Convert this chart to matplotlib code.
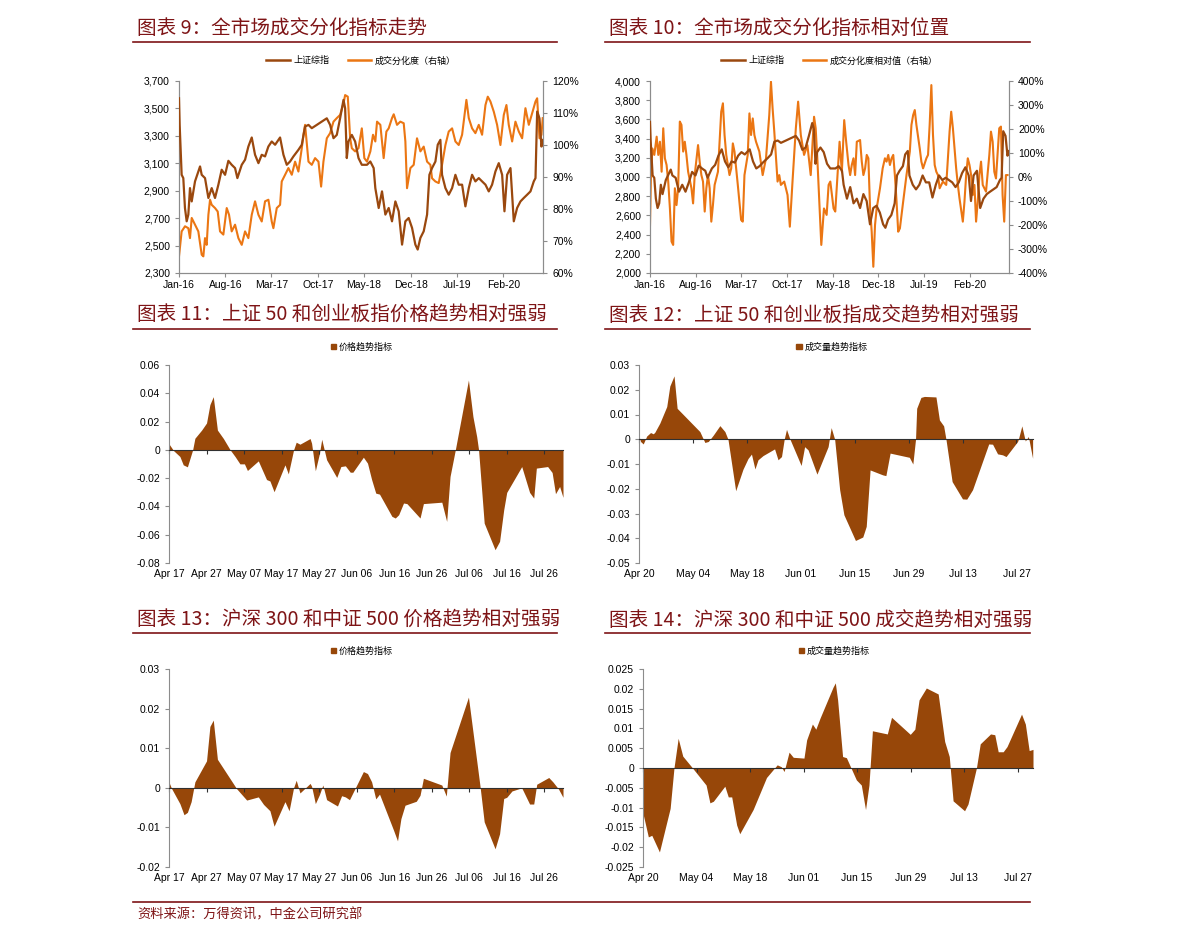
import numpy as np
import pandas as pd
import matplotlib
matplotlib.use('Agg')
import matplotlib.pyplot as plt
from matplotlib.lines import Line2D
from matplotlib.patches import Patch
from matplotlib.ticker import FuncFormatter

plt.rcParams['font.family'] = ['Liberation Sans', 'Noto Sans CJK SC', 'DejaVu Sans']
CJK = ['Noto Sans CJK SC', 'DejaVu Sans']

# ---------------- data: top panels (months since Jan 2016) ----------------
sse_m = [0, 0.1, 0.4, 0.65, 0.9, 1.16, 1.41, 1.66, 1.92, 2.42, 3.18, 3.43, 3.93, 4.44, 4.94,
         5.44, 5.95, 6.45, 6.96, 7.46, 7.96, 8.47, 8.82, 9.48, 9.98, 10.48, 10.99, 11.49, 12.0,
         12.5, 13.0, 13.5, 14.01, 14.52, 15.27, 15.78, 16.28, 16.78, 17.29, 18.04, 18.55, 19.05,
         19.56, 20.06, 20.82, 21.57, 22.33, 22.83, 23.34, 23.84, 24.34, 24.85, 25.1, 25.35, 25.6,
         26.11, 26.61, 27.12, 27.62, 28.4, 28.9, 29.41, 29.66, 30.17, 30.67, 31.18, 31.68, 32.18,
         32.69, 33.19, 33.7, 34.2, 34.7, 35.21, 35.71, 36.06, 36.47, 36.97, 37.48, 37.83, 38.23,
         38.74, 39.09, 39.49, 39.74, 40.25, 40.75, 41.26, 41.76, 42.26, 42.77, 43.27, 43.78, 44.28,
         44.78, 45.29, 45.79, 46.3, 46.8, 47.3, 47.81, 48.31, 48.82, 49.17, 49.57, 50.08, 50.58,
         51.08, 51.59, 52.09, 52.6, 53.1, 53.6, 53.86, 54.11, 54.46, 54.76, 54.95]
sse_v = [3574, 3380, 3016, 2992, 2774, 2677, 2726, 2919, 2822, 2968, 3077, 3016, 2992, 2847, 2919,
         2847, 2944, 3053, 3016, 3118, 3089, 3065, 2992, 3089, 3126, 3222, 3288, 3162, 3101,
         3162, 3150, 3222, 3259, 3235, 3288, 3162, 3089, 3113, 3150, 3198, 3235, 3368,
         3380, 3356, 3380, 3404, 3428, 3380, 3283, 3307, 3428, 3562, 3501, 3138, 3259,
         3307, 3259, 3138, 3089, 3089, 3113, 3065, 2919, 2774, 2895, 2726, 2774, 2677,
         2822, 2750, 2507, 2677, 2701, 2629, 2507, 2471, 2556, 2604, 2726, 3016, 3065,
         3113, 3235, 3271, 3016, 2919, 2871, 2919, 3016, 2944, 2944, 2786, 2919, 3016,
         2968, 2992, 2968, 2944, 2895, 2944, 3041, 3101, 3016, 2750, 3016, 3065, 2677,
         2774, 2822, 2847, 2871, 2895, 2968, 2992, 3477, 3428, 3222, 3270]

div_m = [0, 0.4, 0.91, 1.41, 1.66, 1.92, 2.42, 2.92, 3.43, 3.68, 3.93, 4.18, 4.44, 4.69, 4.94,
         5.44, 5.85, 6.2, 6.7, 7.21, 7.56, 7.96, 8.47, 8.97, 9.48, 9.98, 10.48, 10.99, 11.49,
         12.0, 12.5, 13.0, 13.51, 14.01, 14.26, 14.77, 15.27, 15.52, 16.03, 16.53, 17.04, 17.54,
         18.04, 18.55, 18.8, 19.05, 19.56, 20.06, 20.56, 21.07, 21.47, 21.82, 22.33, 22.83, 23.34,
         23.84, 24.34, 24.85, 25.1, 25.5, 25.86, 26.11, 26.61, 27.12, 27.62, 28.0, 28.4, 28.91,
         29.31, 29.66, 29.92, 30.42, 30.92, 31.33, 31.68, 32.18, 32.44, 32.94, 33.44, 33.95, 34.2,
         34.45, 34.96, 35.46, 35.96, 36.47, 36.97, 37.48, 37.98, 38.23, 38.74, 39.24, 39.74, 40.25,
         40.75, 41.26, 41.76, 42.26, 42.77, 43.42, 43.78, 44.28, 44.78, 45.29, 45.79, 46.3, 46.65,
         47.05, 47.56, 48.06, 48.56, 49.07, 49.47, 49.82, 50.33, 50.83, 51.34, 51.84, 52.34, 52.85,
         53.35, 53.86, 54.11, 54.46, 54.76, 54.95]
div_pct = [65.2, 73.0, 74.6, 74.0, 70.9, 77.2, 75.1, 73.0, 65.7, 65.2, 70.9, 68.8, 78.2, 82.9, 81.3,
           80.3, 79.2, 73.0, 72.0, 80.3, 78.2, 73.0, 75.1, 70.9, 68.8, 73.0, 70.9, 78.2, 82.4,
           78.2, 76.1, 82.4, 82.9, 76.1, 74.0, 80.3, 81.3, 88.6, 90.7, 92.8, 90.7, 94.8,
           91.7, 99.0, 103.2, 106.3, 94.8, 93.8, 95.9, 94.8, 87.0, 94.8, 102.1, 103.7, 107.3,
           108.4, 109.4, 113.0, 115.6, 115.1, 102.1, 99.0, 98.0, 99.0, 105.2, 95.9, 94.8, 98.0,
           103.2, 101.1, 107.3, 106.3, 95.9, 104.2, 105.2, 108.4, 109.6, 106.3, 107.3, 106.8, 101.1,
           86.5, 92.8, 93.8, 102.1, 98.0, 99.5, 94.8, 93.8, 89.6, 88.6, 88.1, 93.8, 100.0,
           104.2, 105.2, 101.1, 100.0, 103.2, 114.1, 108.4, 105.2, 103.7, 106.3, 103.2, 112.5, 115.1,
           113.6, 110.4, 106.3, 100.0, 109.4, 112.5, 106.3, 101.1, 107.3, 104.2, 102.1, 111.5, 106.3,
           109.9, 113.6, 114.6, 102.1, 103.2, 108.4]

rel_m = [0, 0.15, 0.36, 0.66, 1.02, 1.27, 1.52, 1.78, 2.03, 2.28, 2.54, 2.79, 3.05, 3.3, 3.55,
         3.81, 4.06, 4.31, 4.57, 4.82, 5.08, 5.33, 5.58, 5.84, 6.35, 6.6, 6.85, 7.36, 7.61, 7.87,
         8.12, 8.38, 8.63, 8.88, 9.14, 9.39, 9.64, 9.9, 10.41, 10.91, 11.17, 11.42, 11.68, 12.18,
         12.44, 12.69, 12.94, 13.45, 13.96, 14.21, 14.47, 14.97, 15.23, 15.48, 15.74, 15.99, 16.24,
         16.75, 17.26, 17.77, 18.27, 18.53, 18.78, 19.04, 19.54, 19.8, 20.05, 20.56, 21.07, 21.42,
         21.83, 22.34, 22.69, 23.1, 23.6, 24.11, 24.62, 25.13, 25.38, 25.63, 25.89, 26.24, 26.65,
         27.06, 27.36, 27.62, 28.12, 28.38, 28.88, 29.04, 29.39, 29.75, 30.05, 30.41, 30.66, 30.91,
         31.17, 31.42, 31.68, 32.18, 32.44, 32.69, 32.95, 33.2, 33.45, 33.71, 33.96, 34.21, 34.47,
         34.72, 35.23, 35.64, 35.99, 36.24, 36.5, 36.75, 37.01, 37.26, 37.51, 37.77, 38.02, 38.28,
         38.53, 38.78, 39.29, 39.8, 40.05, 40.31, 40.56, 40.81, 41.32, 41.57, 41.83, 42.34, 42.59,
         42.84, 43.1, 43.35, 43.61, 43.86, 44.11, 44.37, 44.87, 45.38, 45.89, 46.14, 46.4, 46.65,
         46.9, 47.16, 47.41, 47.92, 48.17, 48.43, 48.68, 48.94, 49.19, 49.44, 49.7, 49.95, 50.2,
         50.46, 50.71, 50.97, 51.47, 51.98, 52.23, 52.49, 52.74, 53.0, 53.5, 53.76, 54.01, 54.26,
         54.52, 54.77]
rel_pct = [-200, 8, 119, 92, 168, 92, 147, 22, 203, 78, 50, -19, -131, -269, -283,
           -47, -117, -47, 231, 217, 106, 147, 92, 22, -47, -110, 8, 133, 64, 8,
           -19, -144, -47, 8, -47, -186, -117, -33, 22, 272, 307, 175, 92, 8,
           36, 140, 106, -33, -179, -186, 8, 92, 265, 175, 244, 175, 147,
           106, 8, 78, 258, 397, 286, 189, -19, 8, -33, -19, -75, -207,
           -19, 203, 314, 175, 92, 133, 8, 251, 203, 78, -75, -283, -131,
           -158, -33, -19, -131, -144, 78, 147, 22, 237, 147, 50, 8, 50,
           78, 8, 147, 154, 64, 8, 36, 92, 78, -131, -228, -374, -200,
           -131, -47, 36, 78, 64, 92, 50, 78, 92, 8, -103, -228, -214,
           -158, -103, 8, 106, 217, 258, 279, 217, 119, 64, 36, 78, 92,
           217, 383, 175, 50, 22, 8, -47, -19, -33, 189, 272, 203, 119,
           36, -33, -89, -186, -103, 8, 78, 50, 8, -75, -33, -186, -103,
           8, 64, -33, -61, 92, 189, 147, 22, -6, 203, 210, -75, -186,
           8, 8]

top_ticks = ['Jan-16', 'Aug-16', 'Mar-17', 'Oct-17', 'May-18', 'Dec-18', 'Jul-19', 'Feb-20']

# ---------------- data: area panels (days since start date, 2020) ----------------
p11_day = [0, 1.2, 2.9, 3.8, 4.9, 6.3, 6.9, 8.7, 10.0, 10.9, 11.8, 12.9, 14.5, 16.3, 17.6, 18.9,
           20.1, 20.9, 23.8, 26.0, 26.9, 28.0, 30.9, 31.8, 33.2, 33.9, 34.9, 37.6, 38.0, 39.0,
           40.1, 40.7, 42.0, 44.7, 45.8, 47.0, 48.3, 49.0, 51.8, 52.9, 54.0, 55.1, 56.1, 59.4,
           60.3, 61.2, 62.5, 63.4, 66.9, 67.8, 72.7, 74.0, 74.9, 76.3, 79.8, 81.0, 82.0, 82.5,
           84.0, 86.9, 88.1, 89.2, 90.0, 94.0, 96.1, 97.2, 97.9, 100.9, 102.1, 103.0, 104.1, 105.0]
p11_val = [0.0042, -0.0005, -0.0047, -0.0106, -0.012, 0, 0.0082, 0.014, 0.019, 0.032, 0.0376,
           0.014, 0.008, 0, -0.0047, -0.0099, -0.0099, -0.0146, -0.0078, -0.021, -0.022, -0.0296,
           -0.0106, -0.017, 0, 0.0054, 0.004, 0.008, 0.0047, -0.0148, -0.0024, 0.0075, -0.007,
           -0.0195, -0.0118, -0.0113, -0.0158, -0.0158, -0.0052, -0.0094, -0.021, -0.0306, -0.0313,
           -0.047, -0.0482, -0.0459, -0.0376, -0.038, -0.0482, -0.038, -0.037, -0.0506, -0.0188, 0,
           0.0494, 0.0235, 0.0094, 0, -0.0518, -0.0706, -0.0647, -0.0424, -0.0301, -0.0118,
           -0.0301, -0.0341, -0.0129, -0.0118, -0.016, -0.031, -0.0259, -0.0336]

p12_day = [0, 0.4, 1.1, 2.0, 3.0, 3.7, 4.1, 5.4, 7.2, 8.0, 9.1, 9.9, 15.8, 17.1, 18.0, 19.3, 21.0,
           22.3, 23.1, 25.1, 27.0, 28.3, 29.2, 30.1, 30.9, 32.2, 35.2, 36.1, 37.0, 37.7, 38.3, 39.1,
           42.1, 43.0, 43.9, 46.2, 49.1, 49.9, 50.8, 52.1, 53.2, 56.2, 58.1, 59.0, 60.0, 63.3, 64.1,
           65.2, 70.2, 71.1, 71.8, 72.1, 73.2, 74.1, 77.1, 78.0, 79.1, 79.7, 81.3, 84.0, 85.1, 86.6,
           90.8, 91.8, 93.1, 94.4, 95.3, 98.3, 98.5, 99.4, 100.3, 101.1, 102.2]
p12_val = [0.0013, -0.0009, -0.0019, 0.0013, 0.0027, 0.0022, 0.0028, 0.0065, 0.0132, 0.0215,
           0.0256, 0.0125, 0.0031, -0.0013, -0.0009, 0.0017, 0.0055, 0.0031, 0, -0.0208, -0.0121,
           -0.0078, -0.006, -0.012, -0.0083, -0.0066, -0.0039, -0.0083, -0.007, 0, 0.004, 0.0004,
           -0.0106, -0.003, -0.0043, -0.0141, -0.003, 0.0047, 0, -0.0204, -0.0305, -0.0409, -0.0395,
           -0.0352, -0.0124, -0.0144, -0.0147, -0.0056, -0.0073, -0.01, 0, 0.0125, 0.0169, 0.0173,
           0.0171, 0.0078, 0.0054, 0, -0.0171, -0.0241, -0.0242, -0.0204, -0.0019, -0.002, -0.0059,
           -0.0063, -0.007, -0.0009, 0, 0.0054, -0.0007, 0.0011, -0.0077]

p13_day = [0, 0.7, 2.9, 4.0, 4.9, 5.9, 6.9, 10.0, 10.9, 11.8, 12.9, 18.0, 20.7, 23.8, 25.2, 26.9,
           28.0, 30.9, 32.0, 33.2, 33.9, 34.9, 37.6, 38.0, 39.0, 40.1, 41.0, 42.0, 44.9, 46.0, 47.0,
           48.1, 51.8, 52.9, 54.0, 55.1, 56.1, 59.8, 60.9, 61.8, 62.9, 65.9, 66.9, 67.8, 72.7, 73.9,
           74.9, 79.8, 82.9, 84.0, 86.9, 88.1, 89.2, 90.0, 91.4, 94.0, 96.1, 97.2, 98.0, 101.2,
           102.3, 103.8, 105.0]
p13_val = [0.0014, -0.0002, -0.004, -0.0068, -0.0062, -0.0035, 0.0015, 0.0068, 0.0155, 0.0171,
           0.0072, -0.0002, -0.0031, -0.0023, -0.0042, -0.0058, -0.0097, -0.0035, -0.0058, 0,
           0.0019, -0.0013, 0.0011, 0.0004, -0.004, -0.0017, 0.0007, -0.003, -0.0046, -0.002,
           -0.0023, -0.003, 0.0041, 0.0036, 0.0015, -0.0028, -0.0016, -0.0106, -0.0134, -0.0078,
           -0.0044, -0.0034, -0.0019, 0.0024, 0.0007, -0.0021, 0.0089, 0.0229, 0.0003, -0.0086,
           -0.0154, -0.0116, -0.0027, -0.0024, -0.0008, 0, -0.0041, -0.0041, 0.0009, 0.0026, 0.0015,
           -0.0003, -0.0024]

p14_day = [0.0, 1.4, 2.3, 4.3, 7.1, 8.1, 9.2, 10.4, 12.7, 16.5, 17.5, 18.4, 21.4, 22.3, 23.2, 24.5,
           25.3, 28.8, 32.3, 35.1, 36.2, 36.9, 38.2, 39.3, 42.1, 42.8, 44.3, 45.2, 46.3, 49.7, 50.3,
           50.9, 52.2, 53.2, 55.8, 57.1, 58.2, 59.1, 60.0, 63.9, 65.0, 69.9, 71.1, 72.2, 74.1, 77.2,
           78.9, 80.1, 81.1, 84.1, 85.0, 87.2, 88.2, 90.9, 92.0, 92.9, 94.2, 95.2, 99.0, 100.0,
           101.0, 102.0]
p14_val = [-0.0115, -0.0174, -0.017, -0.0212, -0.0102, 0, 0.0075, 0.003, 0.0003, -0.0043, -0.0088,
           -0.0084, -0.0046, -0.0073, -0.0073, -0.0144, -0.0166, -0.0105, -0.0024, 0.0008, 0.0003,
           -0.0009, 0.004, 0.0027, 0.0025, 0.0071, 0.0111, 0.0098, 0.0126, 0.0204, 0.0215, 0.0172,
           0.0029, 0.0026, -0.003, -0.0043, -0.0105, -0.0043, 0.0094, 0.0086, 0.0128, 0.0085,
           0.0098, 0.0172, 0.0202, 0.0187, 0.0067, 0.0029, -0.0083, -0.0108, -0.0091, 0, 0.0061,
           0.0086, 0.0084, 0.0041, 0.0041, 0.0054, 0.0136, 0.0111, 0.0044, 0.0047]

# ---------------- style ----------------
W, H = 1191, 942
RED = '#7E1416'
BROWN = '#9A480E'
ORANGE = '#EB7613'
FILL = '#974709'
AXC = '#8C8C8C'
TICK_FS = 7.5

fig = plt.figure(figsize=(W / 100, H / 100), dpi=100)


def box(l, r, t, b):
    return [l / W, 1 - b / H, (r - l) / W, (b - t) / H]


def header(x0, x1, ytxt, yline, text):
    fig.text((x0 + 4) / W, 1 - ytxt / H, text, color=RED, fontsize=14.1,
             family=CJK, va='center', ha='left')
    fig.add_artist(Line2D([x0 / W, x1 / W], [1 - yline / H, 1 - yline / H],
                          color=RED, lw=1.2))


def month_dates(m):
    return pd.Timestamp('2016-01-01') + pd.to_timedelta(np.array(m) * 30.44, unit='D')


def style_spines(ax):
    for s in ['left', 'right', 'bottom', 'top']:
        ax.spines[s].set_color(AXC)
        ax.spines[s].set_linewidth(0.8)
    ax.tick_params(colors=AXC, labelcolor='black', labelsize=TICK_FS, length=3, width=0.8)


def top_panel(rect, left_lim, left_step, right_lim, right_step, orange_m, orange_v, orange_label):
    ax = fig.add_axes(rect)
    ax2 = ax.twinx()
    d_sse = month_dates(sse_m)
    ax.plot(d_sse, sse_v, color=BROWN, lw=1.6, zorder=3)
    ax2.plot(month_dates(orange_m), orange_v, color=ORANGE, lw=1.5)
    ax.set_zorder(ax2.get_zorder() + 1)
    ax.patch.set_visible(False)
    ax.set_xlim(pd.Timestamp('2016-01-01'), pd.Timestamp('2020-08-01'))
    ax.set_ylim(*left_lim)
    ax.set_yticks(np.arange(left_lim[0], left_lim[1] + 1, left_step))
    ax.yaxis.set_major_formatter(FuncFormatter(lambda v, _: f'{v:,.0f}'))
    ax2.set_ylim(*right_lim)
    ax2.set_yticks(np.arange(right_lim[0], right_lim[1] + 1, right_step))
    ax2.yaxis.set_major_formatter(FuncFormatter(lambda v, _: f'{v:.0f}%'))
    ax.set_xticks(pd.date_range('2016-01-01', periods=len(top_ticks), freq='7MS'))
    ax.set_xticklabels(top_ticks)
    for a in (ax, ax2):
        style_spines(a)
        a.spines['top'].set_visible(False)
    ax.tick_params(axis='x', pad=2)
    handles = [Line2D([], [], color=BROWN, lw=1.8), Line2D([], [], color=ORANGE, lw=1.8)]
    ax.legend(handles, ['上证综指', orange_label], loc='center', bbox_to_anchor=(0.5, 1.105),
              ncol=2, frameon=False, prop={'family': CJK, 'size': 6.5}, handlelength=2.6,
              columnspacing=2.0, handletextpad=0.4)
    return ax


def area_panel(rect, start, days, vals, ylim, ystep, tick_step, n_ticks, xend, label):
    ax = fig.add_axes(rect)
    d = pd.Timestamp(start) + pd.to_timedelta(np.array(days), unit='D')
    ax.fill_between(d, vals, 0, color=FILL, lw=0)
    ax.set_xlim(pd.Timestamp(start), pd.Timestamp(start) + pd.Timedelta(days=xend))
    ax.set_ylim(*ylim)
    yt = np.round(np.arange(ylim[0], ylim[1] + ystep / 2, ystep), 4)
    ax.set_yticks(yt)
    ax.yaxis.set_major_formatter(FuncFormatter(lambda v, _: '0' if abs(v) < 1e-9 else f'{round(v, 4):g}'))
    ticks = pd.Timestamp(start) + pd.to_timedelta(np.arange(n_ticks) * tick_step, unit='D')
    style_spines(ax)
    ax.spines['top'].set_visible(False)
    ax.spines['right'].set_visible(False)
    ax.spines['bottom'].set_position(('data', 0))
    ax.spines['bottom'].set_color('#303030')
    ax.set_xticks(ticks)
    ax.tick_params(axis='x', labelbottom=False, colors='#303030', length=3)
    sec = ax.secondary_xaxis('bottom')
    sec.set_xticks(ticks)
    sec.set_xticklabels([t.strftime('%b %d') for t in ticks])
    sec.spines['bottom'].set_visible(False)
    sec.tick_params(length=0, labelsize=TICK_FS, pad=4)
    ax.legend([Patch(color=FILL)], [label], loc='center', bbox_to_anchor=(0.49, 1.09),
              frameon=False, prop={'family': CJK, 'size': 6.5}, handlelength=0.6,
              handleheight=0.6, handletextpad=0.3)
    return ax


# headers
header(133, 557, 28, 42, '图表 9：全市场成交分化指标走势')
header(605, 1030, 28, 42, '图表 10：全市场成交分化指标相对位置')
header(133, 557, 315, 329, '图表 11：上证 50 和创业板指价格趋势相对强弱')
header(605, 1030, 315, 329, '图表 12：上证 50 和创业板指成交趋势相对强弱')
header(133, 557, 620, 633, '图表 13：沪深 300 和中证 500 价格趋势相对强弱')
header(605, 1030, 620, 633, '图表 14：沪深 300 和中证 500 成交趋势相对强弱')

top_panel(box(179, 543, 81, 273), (2300, 3700), 200, (60, 120), 10, div_m, div_pct,
          '成交分化度（右轴）')
top_panel(box(650, 1009, 81, 273), (2000, 4000), 200, (-400, 400), 100, rel_m, rel_pct,
          '成交分化度相对值（右轴）')

area_panel(box(169, 563, 365, 563), '2020-04-17', p11_day, p11_val, (-0.08, 0.06), 0.02,
           10, 11, 105, '价格趋势指标')
area_panel(box(639, 1033, 365, 563), '2020-04-20', p12_day, p12_val, (-0.05, 0.03), 0.01,
           14, 8, 102.3, '成交量趋势指标')
area_panel(box(169, 563, 669, 867), '2020-04-17', p13_day, p13_val, (-0.02, 0.03), 0.01,
           10, 11, 105, '价格趋势指标')
area_panel(box(643, 1033, 669, 867), '2020-04-20', p14_day, p14_val, (-0.025, 0.025), 0.005,
           14, 8, 102.0, '成交量趋势指标')

# footer
fig.add_artist(Line2D([133 / W, 1030 / W], [1 - 902 / H, 1 - 902 / H], color=RED, lw=1.2))
fig.text(137 / W, 1 - 915 / H, '资料来源：万得资讯，中金公司研究部', color=RED, fontsize=9.5,
         family=CJK, va='center', ha='left')

fig.savefig('out.png', dpi=100)
